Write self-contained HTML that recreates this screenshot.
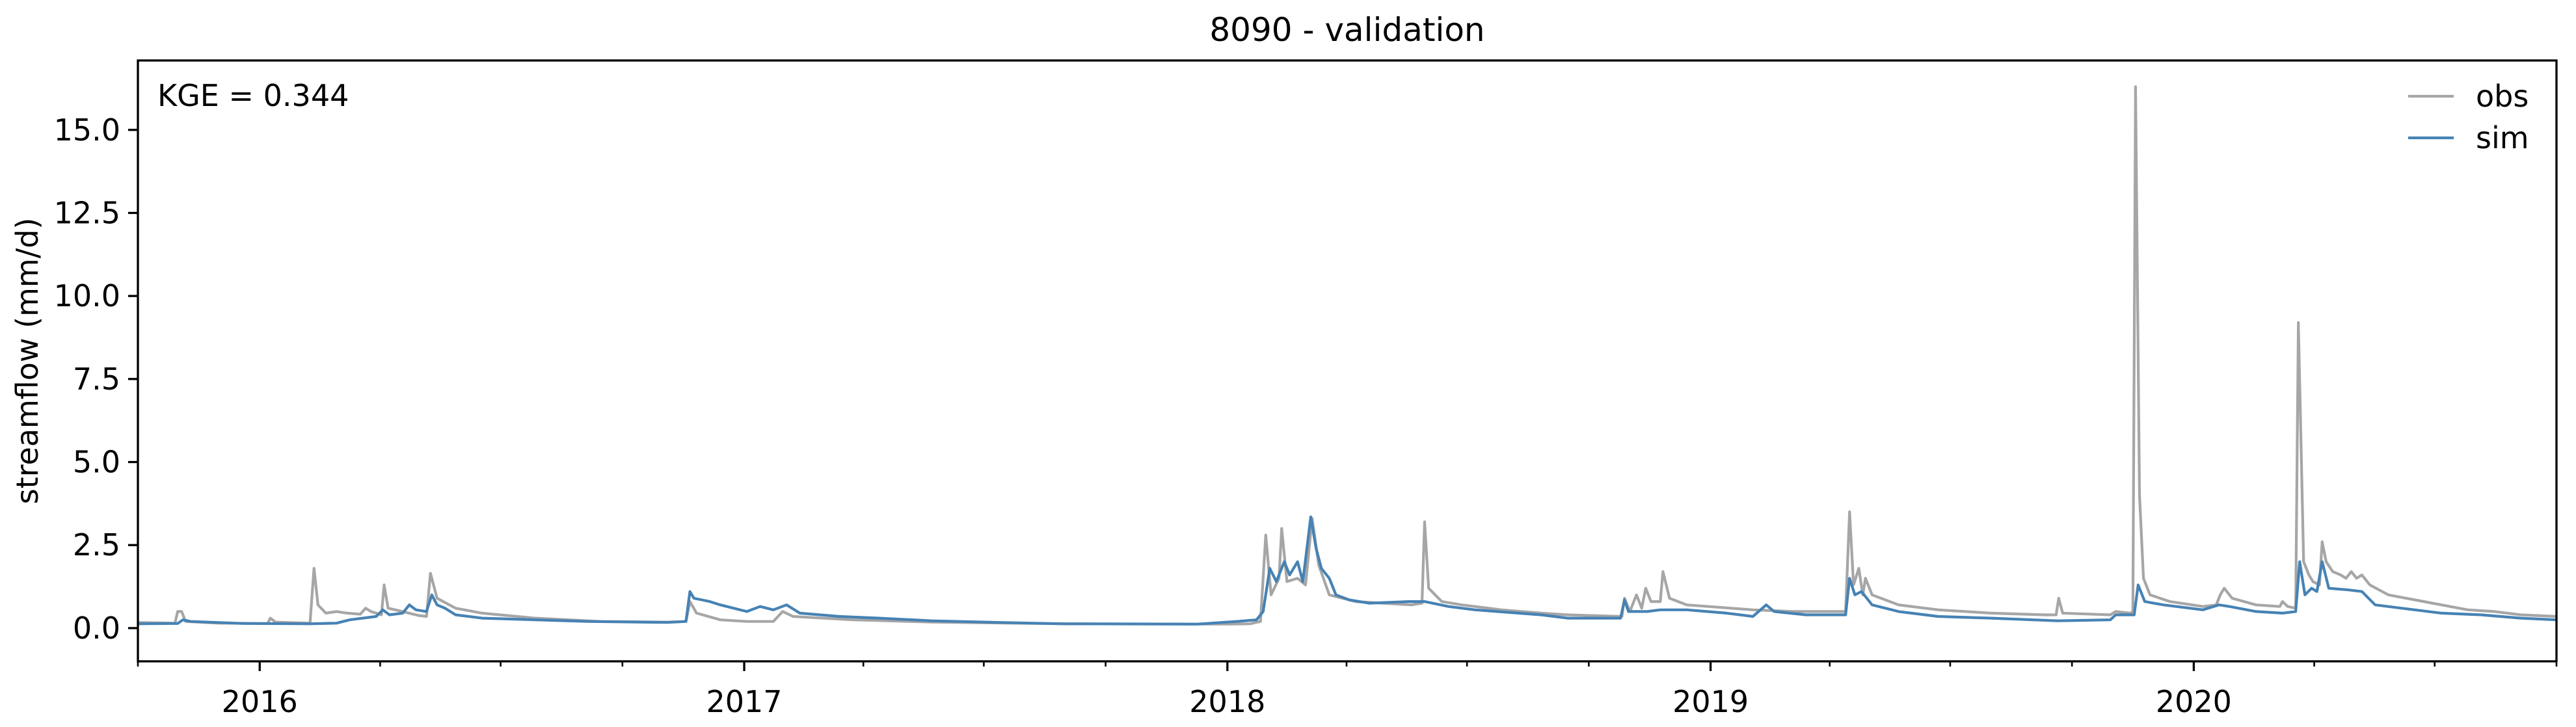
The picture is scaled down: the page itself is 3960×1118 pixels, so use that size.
<!DOCTYPE html>
<html><head><meta charset="utf-8"><style>
html,body{margin:0;padding:0;background:#fff;}
svg{display:block;font-family:"DejaVu Sans","Liberation Sans",sans-serif;}
</style></head><body>
<svg id="chart" width="3960" height="1118" viewBox="0 0 3960 1118" xmlns="http://www.w3.org/2000/svg">
<rect width="3960" height="1118" fill="#fff"/>
<text x="2071" y="63" font-size="50" text-anchor="middle">8090 - validation</text>
<text transform="translate(58,555) rotate(-90)" font-size="46" text-anchor="middle">streamflow (mm/d)</text>
<g id="plot"></g>
<text x="242" y="163" font-size="46">KGE = 0.344</text>
<g>
<line x1="3702" y1="148" x2="3772" y2="148" stroke="#a6a6a6" stroke-width="4.2"/>
<text x="3806" y="164" font-size="46">obs</text>
<line x1="3702" y1="212" x2="3772" y2="212" stroke="#4682b4" stroke-width="4.2"/>
<text x="3806" y="228" font-size="46">sim</text>
</g>
</svg>
<script>
const obsDays=[0,28,30,33,36,60,98,100,104,130,133,136,142,150,158,168,172,176,184,186,189,200,212,218,221,226,240,260,300,350,400,414,417,422,440,460,480,487,495,540,600,700,823,840,848,852,856,862,864,868,876,882,887,892,900,920,962,970,972,975,985,1000,1030,1060,1080,1121,1123,1127,1132,1136,1139,1143,1150,1152,1157,1170,1220,1250,1290,1293,1296,1300,1303,1305,1310,1330,1360,1400,1440,1449,1451,1454,1490,1494,1505,1507,1509,1512,1515,1520,1535,1560,1570,1573,1576,1582,1600,1618,1620,1624,1630,1632,1636,1640,1643,1648,1650,1653,1658,1664,1668,1672,1676,1680,1686,1700,1720,1740,1760,1780,1800,1827];
const obsVals=[0.17,0.15,0.5,0.5,0.2,0.15,0.14,0.3,0.18,0.15,1.8,0.7,0.45,0.5,0.45,0.42,0.6,0.5,0.4,1.3,0.6,0.5,0.38,0.35,1.65,0.9,0.6,0.45,0.3,0.2,0.18,0.2,0.8,0.45,0.25,0.2,0.2,0.5,0.35,0.25,0.18,0.13,0.12,0.13,0.2,2.8,1.0,1.5,3.0,1.4,1.5,1.3,3.3,1.9,1.0,0.8,0.7,0.75,3.2,1.2,0.8,0.7,0.55,0.45,0.4,0.35,0.9,0.5,1.0,0.6,1.2,0.8,0.8,1.7,0.9,0.7,0.55,0.5,0.5,3.5,1.3,1.8,1.0,1.5,1.0,0.7,0.55,0.45,0.4,0.4,0.9,0.45,0.4,0.5,0.45,0.5,16.3,4.0,1.5,1.0,0.8,0.65,0.7,1.0,1.2,0.9,0.7,0.65,0.8,0.65,0.6,9.2,2.0,1.6,1.4,1.3,2.6,2.0,1.7,1.6,1.5,1.7,1.5,1.6,1.3,1.0,0.85,0.7,0.55,0.5,0.4,0.35];
const simDays=[0,30,34,40,80,130,150,160,170,180,185,190,200,205,210,218,222,226,232,240,260,300,340,400,414,417,420,426,432,440,450,460,470,480,490,500,530,560,600,650,700,800,830,845,850,855,860,866,870,876,880,886,890,894,900,905,915,930,960,972,990,1010,1060,1080,1120,1123,1126,1140,1150,1170,1200,1220,1230,1236,1260,1290,1293,1297,1302,1310,1330,1360,1400,1450,1490,1494,1508,1511,1516,1530,1560,1572,1580,1600,1620,1630,1633,1637,1642,1646,1650,1655,1670,1680,1690,1710,1740,1770,1800,1827];
const simVals=[0.13,0.14,0.25,0.2,0.14,0.13,0.15,0.25,0.3,0.35,0.55,0.4,0.45,0.7,0.55,0.5,1.0,0.7,0.6,0.4,0.3,0.25,0.2,0.17,0.2,1.1,0.9,0.85,0.8,0.7,0.6,0.5,0.65,0.55,0.7,0.45,0.35,0.3,0.22,0.17,0.13,0.12,0.2,0.25,0.5,1.8,1.4,2.0,1.6,2.0,1.4,3.35,2.4,1.8,1.5,1.0,0.85,0.75,0.8,0.8,0.65,0.55,0.4,0.3,0.3,0.85,0.5,0.5,0.55,0.55,0.45,0.35,0.7,0.5,0.4,0.4,1.5,1.0,1.1,0.7,0.5,0.35,0.3,0.22,0.25,0.4,0.4,1.3,0.8,0.7,0.55,0.7,0.65,0.5,0.45,0.5,2.0,1.0,1.2,1.1,2.0,1.2,1.15,1.1,0.7,0.6,0.45,0.4,0.3,0.25];
const yTicks=[0,2.5,5,7.5,10,12.5,15];
const yTickLabels=["0.0","2.5","5.0","7.5","10.0","12.5","15.0"];
const xYears=[2016,2017,2018,2019,2020];

const NS="http://www.w3.org/2000/svg";
const L=212,R=3930,T=93,B=1017;
const start=Date.UTC(2015,9,1), end=Date.UTC(2020,9,1);
const totalDays=(end-start)/864e5;
const yMin=-1.0,yMax=17.09;
const xs=d=>L+(d/totalDays)*(R-L);
const xDate=t=>xs((t-start)/864e5);
const ys=v=>B-(v-yMin)/(yMax-yMin)*(B-T);
const plot=document.getElementById('plot');
function mk(tag,attrs){const e=document.createElementNS(NS,tag);for(const k in attrs)e.setAttribute(k,attrs[k]);return e;}
function line(days,vals,color,name){
  const pts=days.map((d,i)=>xs(d).toFixed(1)+','+ys(vals[i]).toFixed(1)).join(' ');
  const p=mk('polyline',{points:pts,fill:'none',stroke:color,'stroke-width':4.2,'stroke-linejoin':'round'});
  
  
  plot.appendChild(p);
}
line(obsDays,obsVals,'#a6a6a6','obs-line');
line(simDays,simVals,'#4682b4','sim-line');
// frame
const fr=mk('rect',{x:L,y:T,width:R-L,height:B-T,fill:'none',stroke:'#000','stroke-width':3.3});


plot.appendChild(fr);
// y ticks
yTicks.forEach((v,i)=>{
  const y=ys(v);
  const t=mk('line',{x1:L-15,y1:y,x2:L,y2:y,stroke:'#000','stroke-width':3.3});
  
  
  plot.appendChild(t);
  const tx=mk('text',{x:L-27,y:y+16,'font-size':46,'text-anchor':'end'});
  tx.textContent=yTickLabels[i];
  
  
  plot.appendChild(tx);
});
// x ticks: minor quarterly, major yearly
for(let yr=2015;yr<=2020;yr++){
  [0,3,6,9].forEach(m=>{
    const t=Date.UTC(yr,m,1);
    if(t<start||t>end)return;
    const x=xDate(t);
    const major=m===0;
    const tk=mk('line',{x1:x,y1:B,x2:x,y2:B+(major?15:8),stroke:'#000','stroke-width':major?3.3:2.6});
    
    
    plot.appendChild(tk);
  });
}
xYears.forEach(yr=>{
  const x=xDate(Date.UTC(yr,0,1));
  const tx=mk('text',{x:x,y:B+78,'font-size':46,'text-anchor':'middle'});
  tx.textContent=String(yr);
  
  
  plot.appendChild(tx);
});
</script>
</body></html>
